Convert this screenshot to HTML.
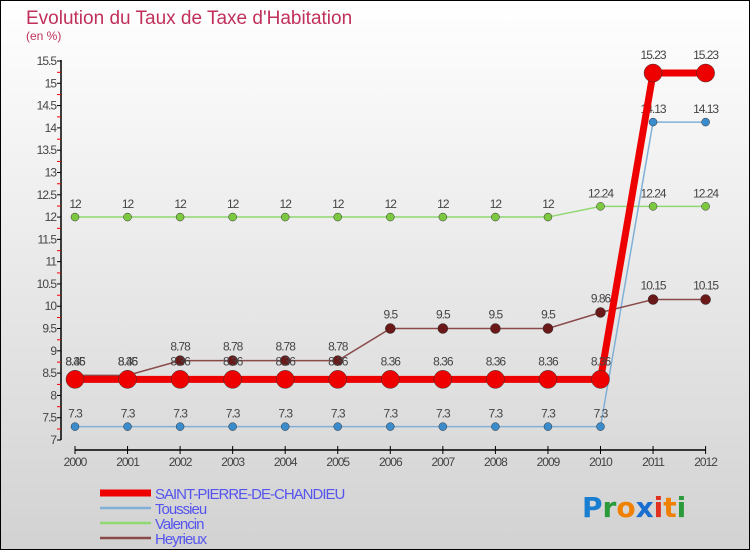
<!DOCTYPE html>
<html><head><meta charset="utf-8"><style>
html,body{margin:0;padding:0}
body{width:750px;height:550px;overflow:hidden;font-family:"Liberation Sans",sans-serif}
</style></head><body>
<svg id="chart" width="750" height="550" xmlns="http://www.w3.org/2000/svg" font-family="Liberation Sans, sans-serif">
<defs><linearGradient id="bg" x1="0" y1="0" x2="0" y2="1"><stop offset="0" stop-color="#ffffff"/><stop offset="1" stop-color="#d2d2d2"/></linearGradient></defs>
<rect x="0.5" y="0.5" width="749" height="549" fill="url(#bg)" stroke="#000"/>
<text x="26" y="24" font-size="19" fill="#c0305a">Evolution du Taux de Taxe d'Habitation</text>
<text x="26" y="40" font-size="12" fill="#c0305a">(en %)</text>
<g id="axes"></g><g id="series"></g><g id="legend"></g>
<g font-size="28" font-weight="bold" font-family="DejaVu Sans, sans-serif">
<text x="582" y="517"><tspan fill="#1a7fd0">P</tspan><tspan fill="#2a9a3a">r</tspan><tspan fill="#f08000">o</tspan><tspan fill="#1a6ed0">x</tspan><tspan fill="#e03020">i</tspan><tspan fill="#f08000">t</tspan><tspan fill="#2a9a3a">i</tspan></text></g>
</svg>
<script>
const years=[2000,2001,2002,2003,2004,2005,2006,2007,2008,2009,2010,2011,2012];
const yTicks=[7,7.5,8,8.5,9,9.5,10,10.5,11,11.5,12,12.5,13,13.5,14,14.5,15,15.5];
const saint=[8.36,8.36,8.36,8.36,8.36,8.36,8.36,8.36,8.36,8.36,8.36,15.23,15.23];
const toussieu=[7.3,7.3,7.3,7.3,7.3,7.3,7.3,7.3,7.3,7.3,7.3,14.13,14.13];
const valencin=[12,12,12,12,12,12,12,12,12,12,12.24,12.24,12.24];
const heyrieux=[8.45,8.45,8.78,8.78,8.78,8.78,9.5,9.5,9.5,9.5,9.86,10.15,10.15];
const NS="http://www.w3.org/2000/svg";
const xS=i=>75+i*52.55;
const yS=v=>440-(v-7)*(379/8.5);
function mk(tag,attrs,parent){const e=document.createElementNS(NS,tag);for(const k in attrs)e.setAttribute(k,attrs[k]);parent.appendChild(e);return e;}
const axes=document.getElementById('axes');
let ax=mk('line',{x1:61,y1:60,x2:61,y2:440,stroke:'#000','stroke-width':1.5},axes);


yTicks.forEach(v=>{
 const y=yS(v);
 mk('line',{x1:57,y1:y,x2:61,y2:y,stroke:'#000'},axes);
 if(v<15.5)mk('line',{x1:57,y1:y-11,x2:61,y2:y-11,stroke:'#e00'},axes);
 const t=mk('text',{x:56,y:y+4,'text-anchor':'end','font-size':12,fill:'#444','letter-spacing':'-1'},axes);
 t.textContent=String(v);
 
 
});
let xa=mk('line',{x1:75,y1:450,x2:706,y2:450,stroke:'#000','stroke-width':1.5},axes);


years.forEach((yr,i)=>{
 const x=xS(i);
 mk('line',{x1:x,y1:446,x2:x,y2:454,stroke:'#000'},axes);
 const t=mk('text',{x:x,y:466,'text-anchor':'middle','font-size':12,fill:'#444','letter-spacing':'-1'},axes);
 t.textContent=String(yr);
 
 
});
const series=document.getElementById('series');
function draw(name,vals,color,w,r,dot){
 const g=mk('g',{},series);
 
 
 mk('polyline',{points:vals.map((v,i)=>xS(i)+','+yS(v)).join(' '),fill:'none',stroke:color,'stroke-width':w},g);
 vals.forEach((v,i)=>{
  const c=mk('circle',{cx:xS(i),cy:yS(v),r:r,fill:dot,stroke:'#333','stroke-width':0.5},g);
  
  
  const t=mk('text',{x:xS(i),y:yS(v)-r-5,'text-anchor':'middle','font-size':12,fill:'#444','letter-spacing':'-1'},g);
  t.textContent=String(v);
  
  
 });
}
draw('valencin',valencin,'#90d870',1.5,4,'#7cc840');
draw('toussieu',toussieu,'#80b0d8',1.5,4,'#3a8ccc');
draw('heyrieux',heyrieux,'#8a4a4a',1.5,5,'#6a1818');
draw('saint-pierre-de-chandieu',saint,'#ee0000',7,9,'#ee0000');
const legend=document.getElementById('legend');
const names=['SAINT-PIERRE-DE-CHANDIEU','Toussieu','Valencin','Heyrieux'];
const cols=['#ee0000','#80b0d8','#90d870','#8a4a4a'];
const widths=[7,2.5,2.5,2.5];
names.forEach((n,i)=>{
 const y=493+i*15;
 const g=mk('g',{},legend);
 
 
 mk('line',{x1:100,y1:y,x2:151,y2:y,stroke:cols[i],'stroke-width':widths[i]},g);
 const t=mk('text',{x:155,y:y+6,'font-size':15,fill:'#5555ee','letter-spacing':'-1'},g);
 t.textContent=n;
});
</script>
</body></html>
